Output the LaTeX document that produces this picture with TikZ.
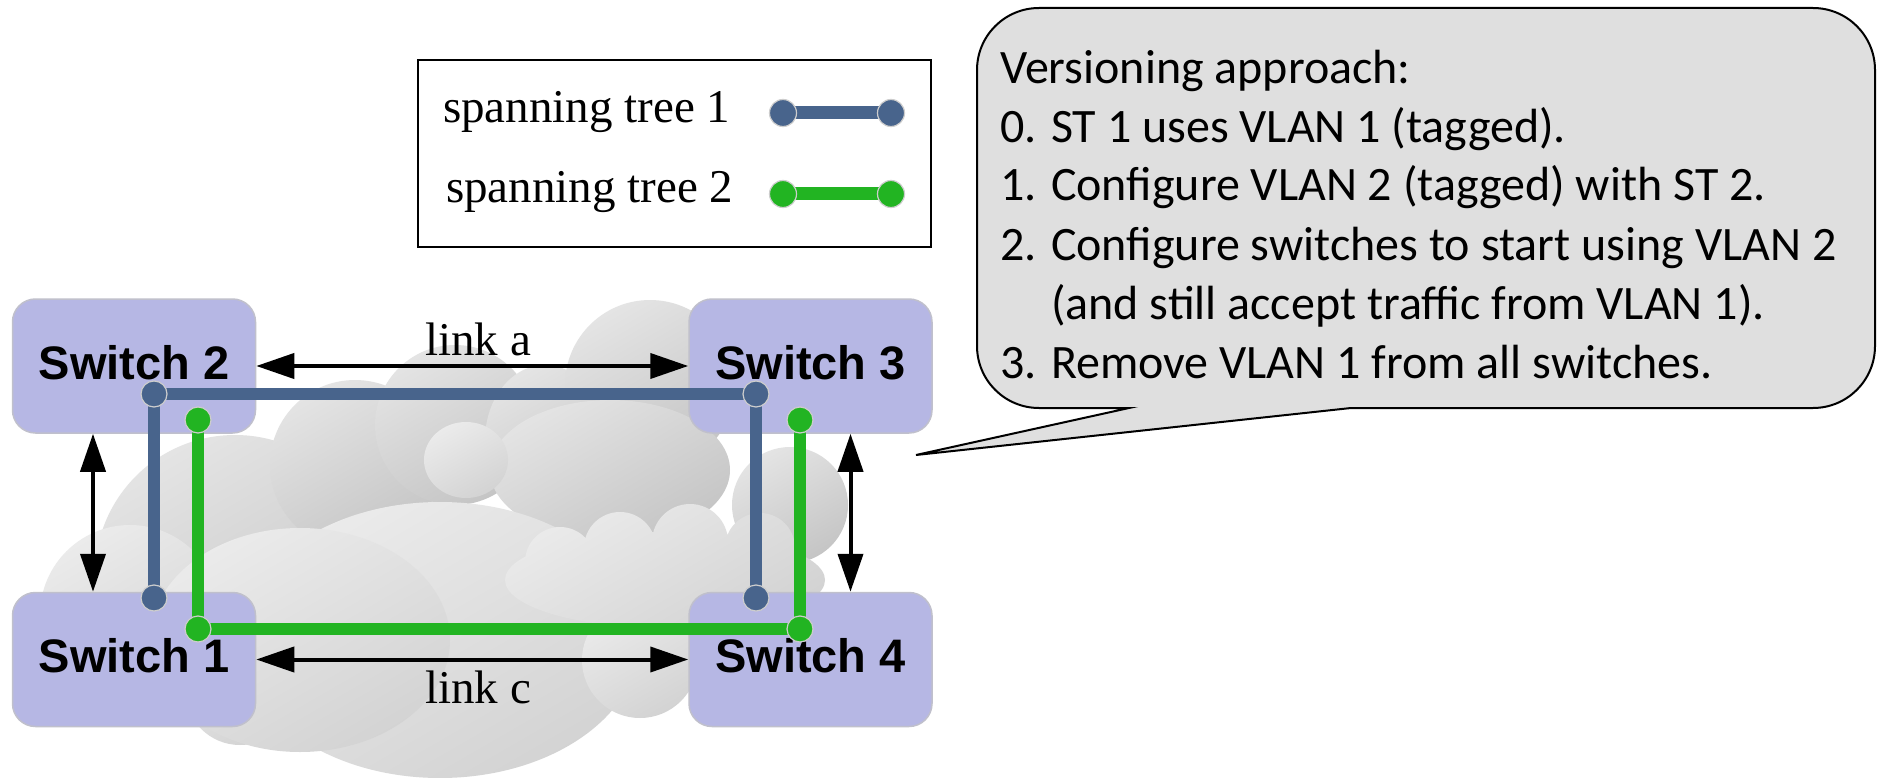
\documentclass[tikz,border=0pt]{standalone}
\usepackage{fontspec}
\setmainfont{Liberation Serif}
\newfontfamily\swfont{Liberation Sans}
\newfontfamily\notefont{Carlito}
\usetikzlibrary{arrows.meta}

\definecolor{stblue}{RGB}{72,100,140}
\definecolor{stgreen}{RGB}{34,180,34}
\definecolor{swfill}{RGB}{182,183,228}
\definecolor{swedge}{RGB}{192,192,204}
\definecolor{notefill}{RGB}{223,223,223}
\definecolor{dotedge}{RGB}{205,205,205}
\definecolor{backhi}{RGB}{228,228,228}
\definecolor{backlo}{RGB}{197,197,197}
\definecolor{fronthi}{RGB}{235,235,235}
\definecolor{frontlo}{RGB}{211,211,211}

\tikzset{
  swbox/.style={draw=swedge, line width=1.5pt, fill=swfill, rounded corners=23pt,
    minimum width=243pt, minimum height=134pt, inner sep=0pt,
    font=\swfont\bfseries\fontsize{47}{56}\selectfont, text height=34pt, text depth=8pt},
  link/.style={line width=4pt, {Triangle[length=38pt,width=25pt]}-{Triangle[length=38pt,width=25pt]}},
  tree1/.style={stblue, line width=12pt},
  tree2/.style={stgreen, line width=12pt},
  dotA/.style={circle, fill=stblue, draw=dotedge, line width=1.2pt, minimum size=26pt, inner sep=0pt},
  dotB/.style={circle, fill=stgreen, draw=dotedge, line width=1.2pt, minimum size=26pt, inner sep=0pt},
  serif/.style={inner sep=0pt, font=\fontsize{47}{56}\selectfont},
  note/.style={draw=black, line width=2pt, fill=notefill},
  noteline/.style={anchor=base west, inner sep=0pt, font=\notefont\fontsize{48}{59}\selectfont},
  % cloud puffs: light at the upper left, darker at the lower right
  back/.style={top color=backhi, bottom color=backlo, shading angle=30},
  front/.style={top color=fronthi, bottom color=frontlo, shading angle=30}
}

\begin{document}
\begin{tikzpicture}[x=1pt, y=-1pt]
\fill[white] (0,0) rectangle (1885,778);
\useasboundingbox (0,0) rectangle (1885,778);

% ---- cloud (background) ----
\shade[back] (235,575) circle[radius=140];
\shade[back] (355,465) circle[radius=85];
\shade[back] (455,425) circle[radius=80];
\shade[back] (545,440) ellipse[x radius=60, y radius=75];
\shade[back] (650,385) circle[radius=85];
\shade[back] (610,470) ellipse[x radius=120, y radius=70];
\shade[back] (790,505) circle[radius=58];
\shade[front] (130,615) circle[radius=90];
\shade[front] (240,690) circle[radius=55];
\shade[front] (400,545) circle[radius=36];
\shade[front] (440,640) ellipse[x radius=200, y radius=138];
\shade[front] (300,640) ellipse[x radius=150, y radius=112];
\shade[front] (640,660) circle[radius=58];
\shade[front] (665,580) ellipse[x radius=160, y radius=48]
  (560,562) circle[radius=35] (620,548) circle[radius=36]
  (690,542) circle[radius=38] (760,548) circle[radius=35];
\shade[front] (466,460) ellipse[x radius=42, y radius=38];

% ---- switches ----
\node[swbox] (s2) at (134,366) {Switch 2};
\node[swbox] (s3) at (810.5,366) {Switch 3};
\node[swbox] (s1) at (134,659.5) {Switch 1};
\node[swbox] (s4) at (810.5,659.5) {Switch 4};

% ---- physical links ----
\draw[link] (s2) -- (s3);
\draw[link] (s1) -- (s4);
\draw[link] ([xshift=-41pt]s2.south) -- ([xshift=-41pt]s1.north);
\draw[link] ([xshift=40pt]s3.south) -- ([xshift=40pt]s4.north);
\node[serif, anchor=base] (la) at (478,355) {link a};
\node[serif, anchor=base] (lc) at (478,703) {link c};

% ---- spanning trees ----
\coordinate (a2) at (154,394);
\coordinate (a3) at (756,394);
\coordinate (a1) at (154,598);
\coordinate (a4) at (756,598);
\coordinate (g2) at (198,420);
\coordinate (g1) at (198,629);
\coordinate (g4) at (800,629);
\coordinate (g3) at (800,420);
\draw[tree1] (a1) -- (a2) -- (a3) -- (a4);
\draw[tree2] (g2) -- (g1) -- (g4) -- (g3);
\foreach \p in {a1,a2,a3,a4} \node[dotA] at (\p) {};
\foreach \p in {g1,g2,g3,g4} \node[dotB] at (\p) {};

% ---- legend ----
\node[draw=black, line width=1.5pt, fill=white, minimum width=513pt, minimum height=187pt, inner sep=0pt] (legend) at (674.5,153.5) {};
\node[serif, anchor=base west] (lg1) at (443,123) {spanning tree 1};
\node[serif, anchor=base west] (lg2) at (446,203) {spanning tree 2};
\coordinate (k1a) at (783,113);
\coordinate (k1b) at (891,113);
\coordinate (k2a) at (783,194);
\coordinate (k2b) at (891,194);
\draw[tree1, line width=13pt] (k1a) -- (k1b);
\draw[tree2, line width=13pt] (k2a) -- (k2b);
\node[dotA, minimum size=27pt] at (k1a) {};
\node[dotA, minimum size=27pt] at (k1b) {};
\node[dotB, minimum size=27pt] at (k2a) {};
\node[dotB, minimum size=27pt] at (k2b) {};

% ---- callout ----
\draw[note] (1129,408) -- (916,455) -- (1351,408) -- (1813,408)
  arc[start angle=90, end angle=0, radius=62] -- (1875,70)
  arc[start angle=0, end angle=-90, radius=62] -- (1039,8)
  arc[start angle=270, end angle=180, radius=62] -- (977,346)
  arc[start angle=180, end angle=90, radius=62] -- cycle;
\node[noteline] (n0) at (1000,84) {Versioning approach:};
\node[noteline] (n1) at (1000,143) {0. ST 1 uses VLAN 1 (tagged).};
\node[noteline] (n2) at (1000,201) {1. Configure VLAN 2 (tagged) with ST 2.};
\node[noteline] (n3) at (1000,260) {2. Configure switches to start using VLAN 2};
\node[noteline] (n4) at (1000,319) {\phantom{2. }(and still accept traffic from VLAN 1).};
\node[noteline] (n5) at (1000,378) {3. Remove VLAN 1 from all switches.};
\end{tikzpicture}
\end{document}
